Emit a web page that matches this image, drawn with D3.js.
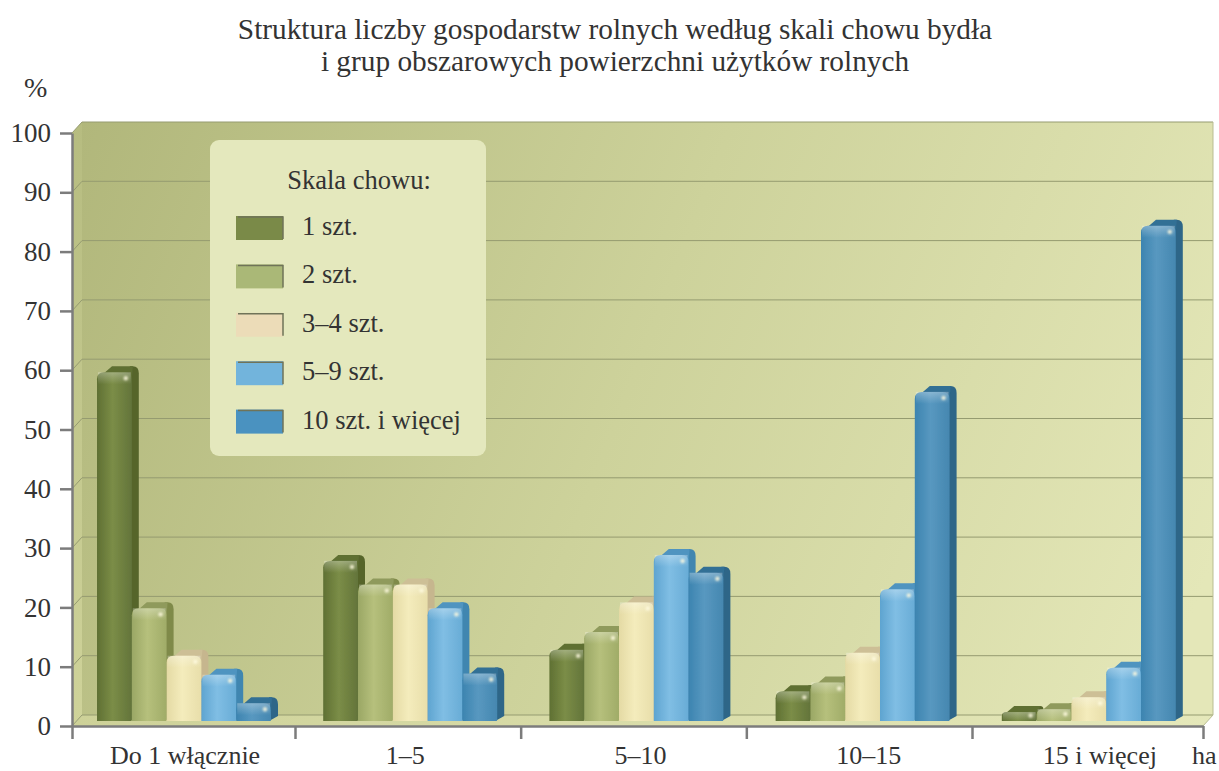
<!DOCTYPE html>
<html>
<head>
<meta charset="utf-8">
<script src="https://cdn.jsdelivr.net/npm/d3@7"></script>
<style>
  html, body { margin: 0; padding: 0; background: #fff; overflow: hidden; }
  text { font-family: "Liberation Serif", serif; fill: #333; }
</style>
</head>
<body>
<script>
const categories = ["Do 1 włącznie", "1–5", "5–10", "10–15", "15 i więcej"];
const seriesNames = ["1 szt.", "2 szt.", "3–4 szt.", "5–9 szt.", "10 szt. i więcej"];
const s1 = [58.8, 27, 12, 5, 1.5];
const s2 = [19, 23, 15, 6.5, 2];
const s3 = [11, 23, 20, 11.5, 4];
const s4 = [7.8, 19, 28, 22.2, 9];
const s5 = [3, 8, 25, 55.5, 83.5];
const seriesValues = [s1, s2, s3, s4, s5];
const yTicks = [0, 10, 20, 30, 40, 50, 60, 70, 80, 90, 100];
const titleLines = ["Struktura liczby gospodarstw rolnych według skali chowu bydła",
  "i grup obszarowych powierzchni użytków rolnych"];

// left, middle, right of the front face, then side and top
const palette = [
  ["#5f7033", "#7b8d47", "#63743a", "#56652c", "#5f6f33"],
  ["#9aa765", "#b6c07c", "#a0ac68", "#7f8a4a", "#8f9a5c"],
  ["#e4daa4", "#f4ecbc", "#e8deaa", "#c6b68e", "#cdbf96"],
  ["#5ea4d0", "#80bee4", "#68acd6", "#3f86b0", "#4f94c0"],
  ["#3c84b0", "#5898c0", "#4587b0", "#2d6688", "#336f95"]
];
const legendColors = ["#7a8a48", "#aab877", "#ecdcb8", "#72b4dc", "#4a92c0"];

const width = 1219, height = 771;
const axisLeft = 72, axisRight = 1203, axisBottom = 726, axisTop = 133;
const wallDx = 10, wallDy = -11;
const barBase = 721, barDx = 8, barDy = -6;
// the category labels are not quite centred in the source
const labelShift = [0, -6, 3, 5, 10];

const svg = d3.select("body").append("svg")
  .attr("width", width).attr("height", height);
const defs = svg.append("defs");

const wallGrad = defs.append("linearGradient").attr("id", "wall")
  .attr("gradientUnits", "userSpaceOnUse")
  .attr("x1", 82).attr("y1", 121).attr("x2", 1214).attr("y2", 560);
wallGrad.append("stop").attr("offset", 0).attr("stop-color", "#b1b77b");
wallGrad.append("stop").attr("offset", 0.5).attr("stop-color", "#cdd29b");
wallGrad.append("stop").attr("offset", 1).attr("stop-color", "#e4e7b8");

const sideGrad = defs.append("linearGradient").attr("id", "sideWall")
  .attr("x1", 0).attr("y1", 0).attr("x2", 0).attr("y2", 1);
sideGrad.append("stop").attr("offset", 0).attr("stop-color", "#b6bc80");
sideGrad.append("stop").attr("offset", 1).attr("stop-color", "#cfd39a");

const floorGrad = defs.append("linearGradient").attr("id", "floor");
floorGrad.append("stop").attr("offset", 0).attr("stop-color", "#cdd198");
floorGrad.append("stop").attr("offset", 1).attr("stop-color", "#e5e8ba");

palette.forEach((p, i) => {
  const g = defs.append("linearGradient").attr("id", "front" + i);
  g.append("stop").attr("offset", 0).attr("stop-color", p[0]);
  g.append("stop").attr("offset", 0.45).attr("stop-color", p[1]);
  g.append("stop").attr("offset", 1).attr("stop-color", p[2]);
});

const bevel = defs.append("linearGradient").attr("id", "bevel")
  .attr("x1", 0).attr("y1", 0).attr("x2", 0).attr("y2", 1);
bevel.append("stop").attr("offset", 0).attr("stop-color", "#fff").attr("stop-opacity", 0.3);
bevel.append("stop").attr("offset", 1).attr("stop-color", "#fff").attr("stop-opacity", 0);

const blur = defs.append("filter").attr("id", "soft")
  .attr("x", "-20%").attr("y", "-20%").attr("width", "140%").attr("height", "140%");
blur.append("feGaussianBlur").attr("stdDeviation", 0.6);
const glow = defs.append("filter").attr("id", "glow")
  .attr("x", "-100%").attr("y", "-100%").attr("width", "300%").attr("height", "300%");
glow.append("feGaussianBlur").attr("stdDeviation", 1);

const y = d3.scaleLinear().domain([0, 100]).range([axisBottom, axisTop]);
const barY = d3.scaleLinear().domain([0, 100]).range([barBase, barBase - (axisBottom - axisTop)]);
const x0 = d3.scaleBand().domain(categories).range([axisLeft, axisRight]);
const x1 = d3.scaleBand().domain(seriesNames).range([25, 199]);
const xEdges = d3.scaleLinear().domain([0, 1, 4, 5]).range([axisLeft, 295, 972, axisRight]);

// walls and floor
const corner = (px, py) => [px + wallDx, py + wallDy];
svg.append("path").attr("fill", "url(#sideWall)")
  .attr("d", d3.line()([[axisLeft, y(100)], corner(axisLeft, y(100)), corner(axisLeft, y(0)), [axisLeft, y(0)]]) + "Z");
svg.append("path").attr("fill", "url(#floor)")
  .attr("d", d3.line()([[axisLeft, y(0)], corner(axisLeft, y(0)), corner(axisRight, y(0)), [axisRight, y(0)]]) + "Z");
svg.append("rect")
  .attr("x", axisLeft + wallDx).attr("y", y(100) + wallDy)
  .attr("width", axisRight - axisLeft).attr("height", y(0) - y(100))
  .attr("fill", "url(#wall)");

// gridlines run along the wall with a short diagonal back from the axis
svg.append("g").selectAll("path").data(yTicks).enter().append("path")
  .attr("fill", "none").attr("stroke", "#959b70").attr("stroke-width", 1)
  .attr("d", d => d3.line()([[axisLeft, y(d)], corner(axisLeft, y(d)), corner(axisRight, y(d))]));
svg.append("path").attr("fill", "none").attr("stroke", "#b9bd93").attr("stroke-width", 1)
  .attr("d", d3.line()([corner(axisRight, y(100)), corner(axisRight, y(0)), [axisRight, y(0)]]));

// legend box
const legend = svg.append("g");
legend.append("rect").attr("x", 210).attr("y", 140).attr("width", 276).attr("height", 316)
  .attr("rx", 9).attr("fill", "#e4e8bd");
legend.append("text").attr("x", 359).attr("y", 189).attr("text-anchor", "middle")
  .style("font-size", "26.5px").text("Skala chowu:");
const rows = legend.selectAll("g.row").data(seriesNames).enter().append("g")
  .attr("class", "row")
  .attr("transform", (d, i) => "translate(236," + (216 + i * 48.4) + ")");
rows.append("rect").attr("width", 47).attr("height", 24)
  .attr("fill", (d, i) => legendColors[i]);
rows.append("path").attr("fill", "none").attr("stroke", "#6f7358").attr("stroke-width", 1.5)
  .attr("d", "M2,1H47V23");
rows.append("text").attr("x", 66).attr("y", 19)
  .style("font-size", "26.5px").text(d => d);

// bars
const groups = svg.append("g").selectAll("g").data(categories).enter().append("g")
  .attr("transform", d => "translate(" + x0(d) + ",0)");

groups.each(function (cat, ci) {
  const g = d3.select(this);
  seriesNames.forEach((name, si) => {
    const v = seriesValues[si][ci];
    const left = x1(name), w = x1.bandwidth(), right = left + w;
    const top = barY(v), r = Math.min(7, (barBase - top) / 2);
    const front = "M" + left + "," + barBase + "V" + (top + r)
      + "Q" + left + "," + top + " " + (left + r) + "," + top
      + "H" + (right - r) + "Q" + right + "," + top + " " + right + "," + (top + r)
      + "V" + (barBase - 1) + "Q" + right + "," + barBase + " " + (right - 1) + "," + barBase + "Z";
    const bar = g.append("g").attr("filter", "url(#soft)");
    bar.append("path").attr("fill", palette[si][3])
      .attr("d", "M" + (right - 2) + "," + barBase + "L" + (right + barDx - 1) + "," + (barBase + barDy + 1)
        + "V" + (top + barDy + r) + "Q" + (right + barDx - 1) + "," + (top + barDy) + " " + (right + barDx - r) + "," + (top + barDy)
        + "H" + (right - 2) + "Z");
    bar.append("path").attr("fill", palette[si][4])
      .attr("d", "M" + left + "," + (top + r) + "L" + (left + barDx + r) + "," + (top + barDy)
        + "H" + (right + barDx - r) + "L" + right + "," + (top + r) + "Z");
    bar.append("path").attr("fill", "url(#front" + si + ")").attr("d", front);
    bar.append("rect").attr("x", left + 1).attr("y", top).attr("width", w - 2)
      .attr("height", Math.min(12, barBase - top)).attr("fill", "url(#bevel)");
    g.append("circle").attr("cx", right - 6).attr("cy", top + r - 1).attr("r", 2.2)
      .attr("fill", "#fffbe0").attr("opacity", 0.85).attr("filter", "url(#glow)");
  });
});

// axes
const yAxis = d3.axisLeft(y).tickValues(yTicks).tickSize(12).tickPadding(9).tickSizeOuter(0);
const yG = svg.append("g").attr("transform", "translate(" + axisLeft + ",0)").call(yAxis);
yG.selectAll("line, path").attr("stroke", "#7c7c7c").attr("stroke-width", 2.5);
yG.selectAll("text").style("font-size", "27px").attr("fill", "#333");

const xAxis = d3.axisBottom(xEdges).tickValues([0, 1, 2, 3, 4, 5]).tickSize(13).tickSizeOuter(0).tickFormat("");
const xG = svg.append("g").attr("transform", "translate(0," + axisBottom + ")").call(xAxis);
xG.selectAll("line, path").attr("stroke", "#7c7c7c").attr("stroke-width", 2.5);

svg.append("g").selectAll("text").data(categories).enter().append("text")
  .attr("x", (d, i) => x0(d) + x0.bandwidth() / 2 + labelShift[i])
  .attr("y", 764).attr("text-anchor", "middle")
  .style("font-size", "26px").text(d => d);

svg.append("text").attr("x", 1192).attr("y", 764).style("font-size", "26px").text("ha");
svg.append("text").attr("x", 24).attr("y", 97).style("font-size", "28px").text("%");

svg.append("g").selectAll("text").data(titleLines).enter().append("text")
  .attr("x", 615).attr("y", (d, i) => 39 + i * 32).attr("text-anchor", "middle")
  .style("font-size", "29.3px").text(d => d);
</script>
</body>
</html>
